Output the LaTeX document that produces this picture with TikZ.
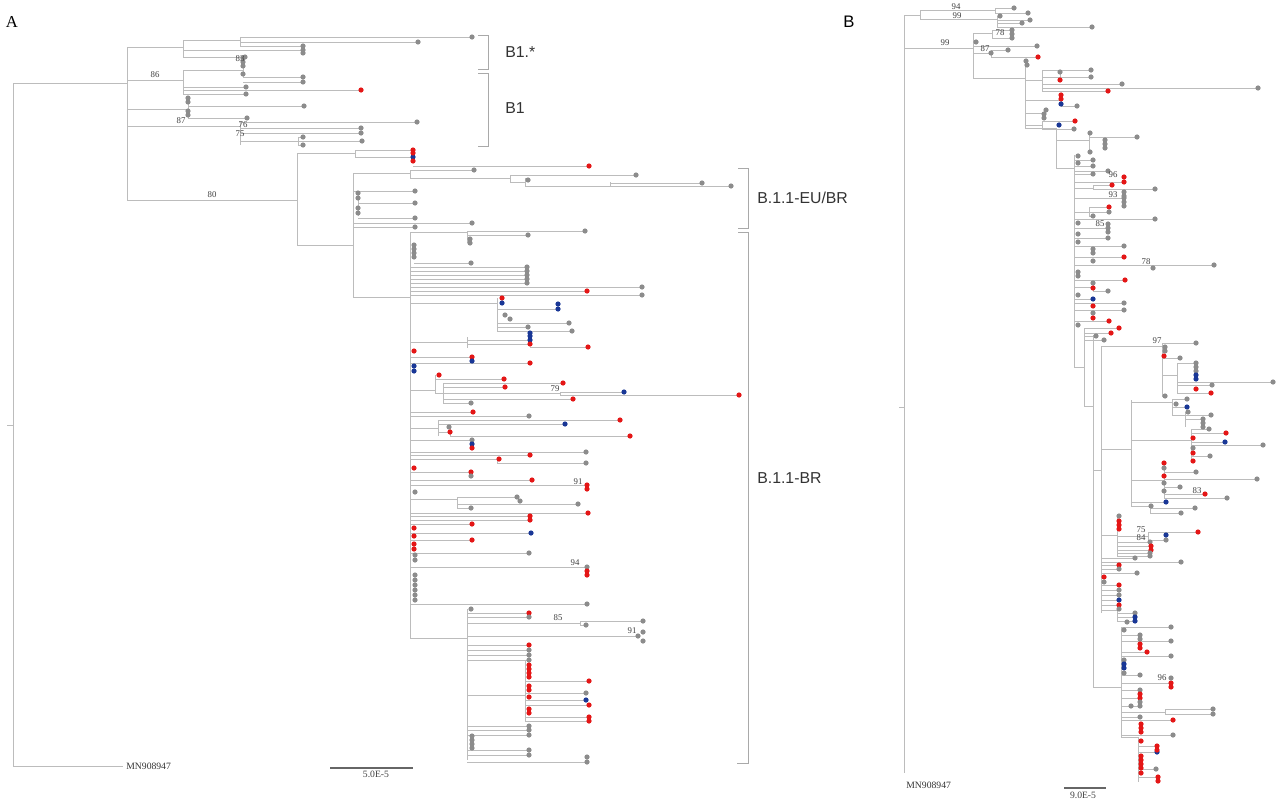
\documentclass[tikz,border=0pt]{standalone}
\usepackage{fontspec}
\setmainfont{Liberation Serif}
\setsansfont{Liberation Sans}
\definecolor{gy}{RGB}{140,140,140}
\definecolor{rd}{RGB}{228,22,22}
\definecolor{bl}{RGB}{25,55,150}
\definecolor{brline}{RGB}{188,188,188}
\begin{document}
\begin{tikzpicture}[
        x=0.02cm, y=-0.02cm,
        br/.style={draw=brline, line width=0.5pt},
        bracket/.style={draw=brline!90!black, line width=0.5pt},
        bs/.style={font=\fontsize{5}{5}\selectfont, text=black!75, inner sep=0pt},
        clade/.style={font=\sffamily\fontsize{9}{10}\selectfont, text=black!80, anchor=west, inner sep=0pt},
        acc/.style={font=\fontsize{5.5}{6}\selectfont, text=black!80, anchor=west, inner sep=0pt},
        panel/.style={font=\fontsize{9.5}{10}\selectfont, inner sep=0pt}
    ]
    \fill[white] (0,0) rectangle (1280,808);
    \useasboundingbox (0,0) rectangle (1280,808);

    % ---------- panel A ----------
    \foreach \x/\ya/\yb in {13/83/766, 127/47/200, 183/40/57, 240/37/46, 183/70/94, 243/58/78, 188/98/118,
        240/122/145, 298/137/145, 297/153/245, 355/150/157, 353/173/297, 410/170/178, 510/175/182, 525/178/186,
        610/182/186, 358/193/216, 410/232/638, 467/231/243, 497/298/331, 467/337/348, 435/375/393, 443/383/403,
        560/392/395, 438/420/436, 450/427/436, 457/497/508, 497/459/463, 467/609/760, 525/660/722, 580/621/625}
        \draw[br] (\x,\ya) -- (\x,\yb);
    \foreach \xa/\xb/\y in {13/127/83, 127/183/47, 183/240/40, 127/183/80, 183/243/70, 127/188/109, 127/240/126,
        240/298/141, 127/297/200, 297/355/153, 297/353/245, 353/410/173, 410/510/178, 510/525/182, 525/610/186,
        353/410/297, 410/467/232, 410/497/303, 410/467/342, 410/435/390, 435/443/393, 443/560/393, 410/438/428,
        438/450/432, 410/457/499, 410/497/459, 410/467/638, 467/525/695, 467/580/623, 13/123/766}
        \draw[br] (\xa,\y) -- (\xb,\y);
    \foreach \xa/\xb/\y/\c in {240/472/37/gy, 240/418/42/gy, 240/303/46/gy, 183/303/50/gy, 183/245/57/gy,
        243/303/77/gy, 243/303/82/gy, 183/246/87/gy, 183/361/90/rd, 183/246/94/gy, 188/304/106/gy, 188/247/118/gy,
        240/417/122/gy, 240/361/128/gy, 240/361/133/gy, 298/303/137/gy, 298/362/141/gy, 298/303/145/gy,
        355/413/150/rd, 355/413/157/bl, 413/589/166/rd, 410/474/170/gy, 510/636/175/gy, 525/528/180/gy,
        610/702/183/gy, 610/731/186/gy, 353/415/191/gy, 358/415/203/gy, 358/415/218/gy, 353/472/223/gy,
        353/415/227/gy, 467/585/231/gy, 467/528/235/gy, 414/471/263/gy, 410/527/267/gy, 410/527/271/gy,
        410/527/275/gy, 410/527/279/gy, 410/527/283/gy, 410/642/287/gy, 410/587/291/rd, 410/642/295/gy,
        497/558/309/bl, 497/569/323/gy, 497/528/327/gy, 497/572/331/gy, 467/530/340/bl, 467/530/344/rd,
        530/588/347/rd, 410/472/357/rd, 410/530/363/rd, 435/504/379/rd, 443/563/383/rd, 443/505/387/rd,
        560/624/392/bl, 560/739/395/rd, 443/573/399/rd, 443/471/403/gy, 410/473/412/rd, 410/529/416/gy,
        438/620/420/rd, 438/565/424/bl, 450/630/436/rd, 410/472/440/gy, 410/586/452/gy, 410/530/455/rd,
        497/586/463/gy, 410/471/472/rd, 410/532/480/rd, 410/587/485/rd, 457/517/497/gy, 457/578/504/gy,
        457/471/508/gy, 410/588/513/rd, 410/530/516/rd, 410/530/520/rd, 410/472/524/rd, 410/531/533/bl,
        410/472/540/rd, 410/529/553/gy, 410/587/567/gy, 410/587/604/gy, 467/529/613/rd, 467/529/617/gy,
        580/643/621/gy, 580/586/625/gy, 467/638/636/gy, 467/529/645/rd, 467/529/650/gy, 467/529/655/gy,
        467/529/660/gy, 525/589/681/rd, 525/586/693/gy, 525/586/700/bl, 525/589/705/rd, 525/589/717/rd,
        525/589/721/rd, 467/529/726/gy, 467/529/730/gy, 467/529/735/gy, 467/529/750/gy, 467/529/755/gy,
        467/587/762/gy}
        {\draw[br] (\xa,\y) -- (\xb,\y); \fill[\c] (\xb,\y) circle[radius=0.052cm];}
    \foreach \x/\y/\c in {303/53/gy, 243/58/gy, 243/62/gy, 243/66/gy, 243/74/gy, 188/98/gy, 188/102/gy,
        188/111/gy, 188/115/gy, 413/153/rd, 413/161/rd, 358/193/gy, 358/198/gy, 358/208/gy, 358/213/gy,
        470/239/gy, 470/243/gy, 414/245/gy, 414/249/gy, 414/253/gy, 414/257/gy, 502/298/rd, 502/303/bl,
        558/304/bl, 505/315/gy, 510/319/gy, 530/333/bl, 530/336/bl, 414/351/rd, 472/361/bl, 414/366/bl,
        414/371/bl, 439/375/rd, 449/427/gy, 450/432/rd, 472/444/bl, 472/448/rd, 499/459/rd, 414/468/rd,
        471/476/gy, 587/489/rd, 415/492/gy, 520/501/gy, 414/528/rd, 414/536/rd, 414/544/rd, 414/549/rd,
        415/555/gy, 415/560/gy, 587/571/rd, 587/575/rd, 415/575/gy, 415/580/gy, 415/585/gy, 415/590/gy,
        415/595/gy, 415/600/gy, 471/609/gy, 643/632/gy, 643/641/gy, 529/665/rd, 529/669/rd, 529/673/rd,
        529/677/rd, 529/686/rd, 529/690/rd, 529/697/rd, 529/709/rd, 529/713/rd, 472/736/gy, 472/740/gy,
        472/744/gy, 472/748/gy, 587/757/gy}
        \fill[\c] (\x,\y) circle[radius=0.052cm];
    \draw[br] (7,425) -- (13,425);
    \foreach \x/\y/\t [count=\i] in {155/75/86, 240/59/83, 181/121/87, 243/125/76, 240/134/75, 212/195/80,
        555/389/79, 578/482/91, 575/563/94, 558/618/85, 632/631/91}
        \node[bs] (bsa\i) at (\x,\y) {\t};

    \draw[bracket] (478,35) -| (488,69) -- (478,69);
    \draw[bracket] (478,73) -| (488,146) -- (478,146);
    \draw[bracket] (738,168) -| (748,228) -- (738,228);
    \draw[bracket] (738,232) -| (748,763) -- (737,763);
    \node[clade] (b1star) at (505,52) {B1.*};
    \node[clade] (b1) at (505,108) {B1};
    \node[clade] (eubr) at (757,198) {B.1.1-EU/BR};
    \node[clade] (br) at (757,478) {B.1.1-BR};

    \node[acc] (rootA) at (126,766) {MN908947};
    \draw[draw=black!60, line width=0.6pt] (330,768) -- (413,768);
    \node[bs, font=\fontsize{5.5}{6}\selectfont] (scaleA) at (376,774) {5.0E-5};
    \node[panel] (labA) at (12,22) {A};

    % ---------- panel B ----------
    \foreach \x/\ya/\yb in {904/15/773, 920/10/19, 995/8/13, 997/16/27, 973/33/78, 992/30/38, 991/50/57,
        1025/60/128, 1042/70/91, 1060/72/80, 1061/95/106, 1045/108/118, 1042/121/129, 1056/128/168,
        1089/133/152, 1074/155/367, 1093/185/189, 1089/207/216, 1093/283/291, 1084/328/406, 1093/335/687,
        1101/346/613, 1162/343/397, 1177/363/393, 1131/400/506, 1172/399/415, 1185/412/427, 1191/429/461,
        1164/463/498, 1150/505/513, 1117/515/556, 1148/532/540, 1117/605/621, 1121/627/737, 1165/709/714,
        1138/737/782}
        \draw[br] (\x,\ya) -- (\x,\yb);
    \foreach \xa/\xb/\y in {904/920/15, 920/995/10, 920/997/19, 904/973/48, 973/992/33, 973/991/53,
        973/1025/78, 1025/1042/80, 1042/1060/77, 1025/1061/100, 1025/1045/113, 1025/1042/125, 1025/1056/128,
        1056/1089/140, 1056/1074/168, 1074/1093/188, 1074/1089/212, 1074/1093/287, 1074/1084/367,
        1084/1093/406, 1093/1101/470, 1101/1162/346, 1162/1177/375, 1101/1131/449, 1131/1172/402,
        1172/1185/415, 1131/1191/440, 1131/1164/480, 1131/1150/506, 1101/1117/535, 1117/1148/536,
        1101/1117/610, 1093/1121/687, 1121/1165/712, 1121/1138/737}
        \draw[br] (\xa,\y) -- (\xb,\y);
    \foreach \xa/\xb/\y/\c in {995/1014/8/gy, 995/1028/13/gy, 997/1000/16/gy, 997/1030/20/gy,
        997/1022/23/gy, 997/1092/27/gy, 992/1012/30/gy, 992/1012/38/gy, 973/1037/46/gy, 991/1008/50/gy,
        991/1038/57/rd, 1042/1091/70/gy, 1060/1091/77/gy, 1042/1122/84/gy, 1042/1258/88/gy, 1042/1108/91/rd,
        1061/1077/106/gy, 1042/1075/121/rd, 1042/1074/129/gy, 1089/1137/137/gy, 1074/1093/160/gy,
        1074/1093/166/gy, 1074/1108/171/gy, 1074/1093/174/gy, 1074/1124/182/rd, 1093/1112/185/rd,
        1093/1155/189/gy, 1074/1124/198/gy, 1089/1109/207/rd, 1089/1109/212/gy, 1089/1093/216/gy,
        1074/1155/219/gy, 1074/1108/228/gy, 1074/1108/238/gy, 1074/1124/246/gy, 1074/1124/257/rd,
        1074/1214/265/gy, 1074/1125/280/rd, 1093/1108/291/gy, 1074/1093/299/bl, 1074/1124/303/gy,
        1074/1124/310/gy, 1074/1109/321/rd, 1084/1119/328/rd, 1084/1111/333/rd, 1084/1096/336/gy,
        1084/1104/340/gy, 1162/1196/343/gy, 1162/1180/358/gy, 1177/1196/363/gy, 1177/1273/382/gy,
        1177/1212/385/gy, 1177/1211/393/rd, 1172/1187/399/gy, 1172/1187/407/bl, 1185/1211/415/gy,
        1185/1203/419/gy, 1191/1209/429/gy, 1191/1226/433/rd, 1191/1225/442/bl, 1191/1263/445/gy,
        1191/1210/456/gy, 1164/1196/472/gy, 1164/1257/479/gy, 1164/1180/487/gy, 1164/1205/494/rd,
        1164/1227/498/gy, 1131/1166/502/bl, 1150/1195/508/gy, 1150/1181/513/gy, 1148/1198/532/rd,
        1148/1166/540/gy, 1117/1150/542/gy, 1117/1151/546/rd, 1117/1151/550/rd, 1117/1150/553/gy,
        1117/1150/556/gy, 1101/1135/558/gy, 1101/1181/562/gy, 1101/1119/565/rd, 1101/1119/569/gy,
        1101/1137/573/gy, 1101/1104/577/rd, 1101/1104/582/gy, 1101/1119/585/rd, 1101/1119/590/gy,
        1101/1119/595/gy, 1101/1119/600/bl, 1101/1119/605/rd, 1117/1135/613/gy, 1117/1135/617/bl,
        1117/1135/621/bl, 1121/1171/627/gy, 1121/1140/635/gy, 1121/1171/641/gy, 1121/1147/652/rd,
        1121/1171/656/gy, 1121/1140/675/gy, 1121/1171/683/rd, 1121/1140/690/gy, 1121/1140/698/rd,
        1121/1140/706/gy, 1165/1213/709/gy, 1165/1213/714/gy, 1121/1140/717/gy, 1121/1173/720/rd,
        1121/1173/735/gy, 1138/1157/746/rd, 1138/1157/752/bl, 1138/1156/769/gy, 1138/1158/777/rd}
        {\draw[br] (\xa,\y) -- (\xb,\y); \fill[\c] (\xb,\y) circle[radius=0.052cm];}
    \foreach \x/\y/\c in {976/42/gy, 991/53/gy, 1012/34/gy, 1026/61/gy, 1027/65/gy, 1060/72/gy, 1060/80/rd,
        1061/95/rd, 1061/99/rd, 1061/104/bl, 1046/110/gy, 1044/114/gy, 1044/118/gy, 1059/125/bl, 1090/133/gy,
        1105/140/gy, 1105/144/gy, 1105/148/gy, 1090/152/gy, 1078/156/gy, 1078/163/gy, 1124/177/rd,
        1124/192/gy, 1124/196/gy, 1124/202/gy, 1124/206/gy, 1108/224/gy, 1108/232/gy, 1078/223/gy,
        1078/234/gy, 1078/242/gy, 1093/249/gy, 1093/253/gy, 1093/261/gy, 1153/268/gy, 1078/272/gy,
        1078/276/gy, 1093/283/gy, 1093/288/rd, 1078/295/gy, 1093/306/rd, 1093/313/gy, 1093/318/rd,
        1078/325/gy, 1165/347/gy, 1165/351/gy, 1164/356/rd, 1196/367/gy, 1196/371/gy, 1196/375/bl,
        1196/379/bl, 1196/389/rd, 1165/396/gy, 1176/404/gy, 1188/412/gy, 1203/423/gy, 1203/427/gy,
        1193/438/rd, 1193/448/gy, 1193/453/rd, 1193/461/rd, 1164/463/rd, 1164/468/gy, 1164/476/rd,
        1164/483/gy, 1164/491/gy, 1151/506/gy, 1119/516/gy, 1119/521/rd, 1119/525/rd, 1119/529/rd,
        1166/535/bl, 1119/609/gy, 1127/622/gy, 1124/630/gy, 1140/639/gy, 1140/644/rd, 1140/648/rd,
        1124/660/gy, 1124/664/bl, 1124/668/bl, 1124/673/gy, 1171/678/gy, 1171/687/rd, 1140/694/rd,
        1140/702/gy, 1131/706/gy, 1141/724/rd, 1141/728/rd, 1141/732/rd, 1141/741/rd, 1157/750/rd,
        1141/756/rd, 1141/760/rd, 1141/764/rd, 1141/768/rd, 1141/773/rd, 1158/781/rd}
        \fill[\c] (\x,\y) circle[radius=0.052cm];
    \draw[br] (899,407) -- (904,407);
    \foreach \x/\y/\t [count=\i] in {956/7/94, 957/16/99, 945/43/99, 1000/33/78, 985/49/87, 1113/175/96,
        1113/195/93, 1100/224/85, 1146/262/78, 1157/341/97, 1197/491/83, 1141/530/75, 1141/538/84,
        1162/678/96}
        \node[bs] (bsb\i) at (\x,\y) {\t};

    \node[acc] (rootB) at (906,785) {MN908947};
    \draw[draw=black!60, line width=0.6pt] (1064,788) -- (1106,788);
    \node[bs, font=\fontsize{5.5}{6}\selectfont] (scaleB) at (1083,795) {9.0E-5};
    \node[panel, font=\sffamily\fontsize{9.5}{10}\selectfont] (labB) at (849,22) {B};
\end{tikzpicture}
\end{document}
